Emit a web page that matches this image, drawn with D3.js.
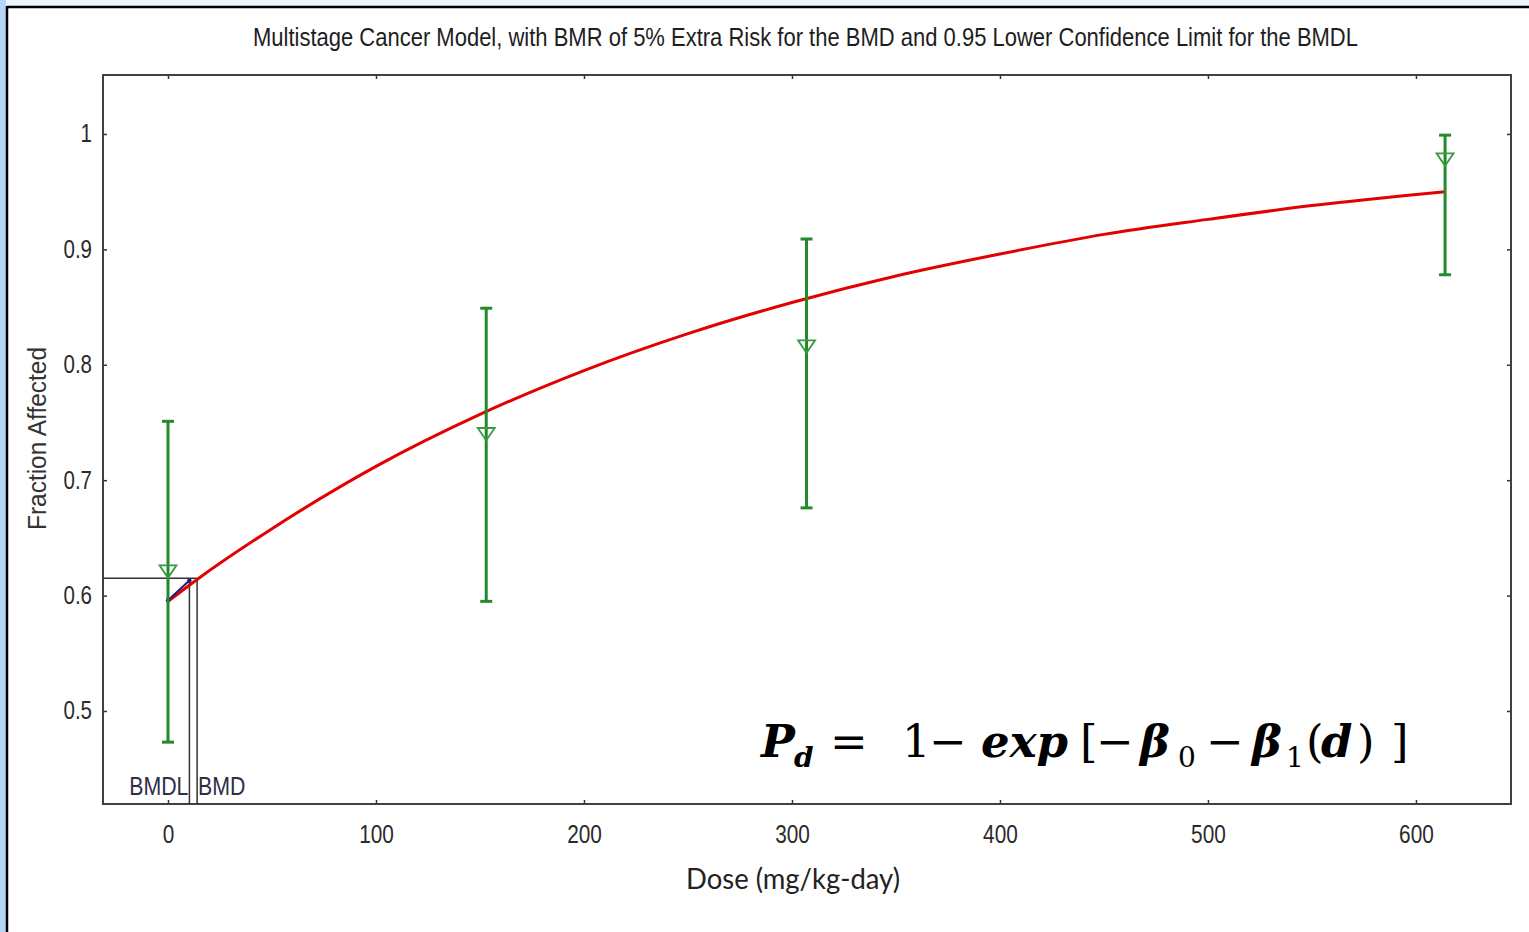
<!DOCTYPE html>
<html>
<head>
<meta charset="utf-8">
<script src="https://cdn.jsdelivr.net/npm/d3@7/dist/d3.min.js"></script>
<style>
  html, body { margin: 0; padding: 0; background: #ffffff; }
  svg { display: block; }
</style>
</head>
<body>
<div id="chart"></div>
<script>
// observed doses with fraction affected and 95% confidence limits
const doses = [0, 153, 307, 614];
const fractionObserved = [0.621, 0.740, 0.816, 0.978];
const lowerLimit = [0.473, 0.595, 0.676, 0.878];
const upperLimit = [0.751, 0.849, 0.909, 0.999];

// fitted multistage curve
const curveDose = [0, 14, 50, 100, 150, 200, 250, 300, 350, 400, 450, 500, 550, 614];
const curveFraction = [0.595, 0.614, 0.658, 0.712, 0.757, 0.795, 0.827, 0.854, 0.877, 0.896, 0.913, 0.926, 0.938, 0.950];

// BMDL segment and benchmark values
const bmdlDose = [0, 10.3];
const bmdlFraction = [0.596, 0.613];
const BMDL = 10.3;
const BMD = 14.0;
const BMR_FRACTION = 0.615;

const xTicks = [0, 100, 200, 300, 400, 500, 600];
const yTicks = [0.5, 0.6, 0.7, 0.8, 0.9, 1];

const TITLE = "Multistage Cancer Model, with BMR of 5% Extra Risk for the BMD and 0.95 Lower Confidence Limit for the BMDL";

const WIDTH = 1529;
const HEIGHT = 932;
const PLOT = { left: 103, right: 1511, top: 75, bottom: 804 };

const NARROW = "'Liberation Sans Narrow', 'Arial Narrow', 'Liberation Sans', Arial, sans-serif";
const GREEN = "#24892b";
const RED = "#e30000";

// squeeze text horizontally, the source used a condensed face
function condense(selection, factor) {
  selection.each(function () {
    const w = this.getComputedTextLength();
    d3.select(this)
      .attr("textLength", w * factor)
      .attr("lengthAdjust", "spacingAndGlyphs");
  });
}

const svg = d3.select("#chart")
  .append("svg")
  .attr("width", WIDTH)
  .attr("height", HEIGHT)
  .attr("viewBox", [0, 0, WIDTH, HEIGHT]);

// slide frame
svg.append("rect").attr("x", 0).attr("y", 0).attr("width", WIDTH).attr("height", 6).attr("fill", "#eef4fb");
svg.append("rect").attr("x", 0).attr("y", 0).attr("width", 6).attr("height", HEIGHT).attr("fill", "#b5d6f8");
svg.append("line").attr("x1", 7).attr("x2", WIDTH).attr("y1", 7).attr("y2", 7)
  .attr("stroke", "#000").attr("stroke-width", 2.5);
svg.append("line").attr("x1", 7).attr("x2", 7).attr("y1", 6).attr("y2", HEIGHT)
  .attr("stroke", "#000").attr("stroke-width", 2.5);

const x = d3.scaleLinear().domain([-31.25, 645.7]).range([PLOT.left, PLOT.right]);
const y = d3.scaleLinear().domain([0.4194, 1.0511]).range([PLOT.bottom, PLOT.top]);

// title
svg.append("text")
  .attr("x", 253)
  .attr("y", 46)
  .attr("font-family", NARROW)
  .attr("font-size", 25)
  .attr("fill", "#1e1e1e")
  .attr("textLength", 1105)
  .attr("lengthAdjust", "spacingAndGlyphs")
  .text(TITLE);

// axes with inward ticks
const styleAxis = (g) => {
  g.select(".domain").remove();
  g.selectAll(".tick line").attr("stroke", "#333").attr("stroke-width", 1.5);
  g.selectAll(".tick text").attr("fill", "#2a2a2a").attr("font-family", NARROW);
};

svg.append("g")
  .attr("transform", `translate(0,${PLOT.bottom})`)
  .call(d3.axisBottom(x).tickValues(xTicks).tickSize(-4).tickPadding(21).tickFormat(d3.format("d")))
  .call(styleAxis)
  .call((g) => g.selectAll(".tick text").attr("font-size", 26).call(condense, 0.8));

svg.append("g")
  .attr("transform", `translate(0,${PLOT.top})`)
  .call(d3.axisTop(x).tickValues(xTicks).tickSize(-4).tickFormat(""))
  .call(styleAxis);

svg.append("g")
  .attr("transform", `translate(${PLOT.left},0)`)
  .call(d3.axisLeft(y).tickValues(yTicks).tickSize(-4).tickPadding(11).tickFormat(d3.format("~g")))
  .call(styleAxis)
  .call((g) => g.selectAll(".tick text").attr("font-size", 25).call(condense, 0.82));

svg.append("g")
  .attr("transform", `translate(${PLOT.right},0)`)
  .call(d3.axisRight(y).tickValues(yTicks).tickSize(-4).tickFormat(""))
  .call(styleAxis);

svg.append("rect")
  .attr("x", PLOT.left)
  .attr("y", PLOT.top)
  .attr("width", PLOT.right - PLOT.left)
  .attr("height", PLOT.bottom - PLOT.top)
  .attr("fill", "none")
  .attr("stroke", "#404040")
  .attr("stroke-width", 2);

// axis titles
svg.append("text")
  .attr("transform", `translate(46,${(347 + 530) / 2}) rotate(-90)`)
  .attr("text-anchor", "middle")
  .attr("font-family", NARROW)
  .attr("font-size", 25)
  .attr("fill", "#333")
  .attr("textLength", 183)
  .attr("lengthAdjust", "spacingAndGlyphs")
  .text("Fraction Affected");

svg.append("text")
  .attr("x", 686)
  .attr("y", 889)
  .attr("font-family", "Lato, 'Open Sans', sans-serif")
  .attr("font-size", 28)
  .attr("fill", "#222")
  .attr("textLength", 214)
  .attr("lengthAdjust", "spacingAndGlyphs")
  .text("Dose (mg/kg-day)");

// benchmark dose guide lines
const guides = svg.append("g").attr("stroke", "#333").attr("stroke-width", 1.5).attr("fill", "none");
guides.append("line")
  .attr("x1", x.range()[0]).attr("x2", x(BMD))
  .attr("y1", y(BMR_FRACTION)).attr("y2", y(BMR_FRACTION));
guides.append("line")
  .attr("x1", x(BMDL)).attr("x2", x(BMDL))
  .attr("y1", y(BMR_FRACTION)).attr("y2", y.range()[0]);
guides.append("line")
  .attr("x1", x(BMD)).attr("x2", x(BMD))
  .attr("y1", y(BMR_FRACTION)).attr("y2", y.range()[0]);

svg.append("text")
  .attr("x", x(BMDL) - 1)
  .attr("y", 795)
  .attr("text-anchor", "end")
  .attr("font-family", NARROW)
  .attr("font-size", 26)
  .attr("fill", "#2e2e48")
  .text("BMDL")
  .call(condense, 0.82);
svg.append("text")
  .attr("x", x(BMD) + 1)
  .attr("y", 795)
  .attr("font-family", NARROW)
  .attr("font-size", 26)
  .attr("fill", "#2e2e48")
  .text("BMD")
  .call(condense, 0.82);

// fitted curve
const curveLine = d3.line()
  .x((d) => x(d[0]))
  .y((d) => y(d[1]))
  .curve(d3.curveMonotoneX);

svg.append("path")
  .datum(curveDose.map((d, i) => [d, curveFraction[i]]))
  .attr("d", curveLine)
  .attr("fill", "none")
  .attr("stroke", RED)
  .attr("stroke-width", 3);

const bmdlPoints = bmdlDose.map((d, i) => [d, bmdlFraction[i]]);
svg.append("path")
  .datum(bmdlPoints)
  .attr("d", d3.line().x((d) => x(d[0])).y((d) => y(d[1])))
  .attr("fill", "none")
  .attr("stroke", "#1b1f7a")
  .attr("stroke-width", 2);
svg.selectAll(".bmdl-dot")
  .data(bmdlPoints)
  .join("circle")
  .attr("class", "bmdl-dot")
  .attr("cx", (d) => x(d[0]))
  .attr("cy", (d) => y(d[1]))
  .attr("r", 2.2)
  .attr("fill", "#1b1f7a");

// error bars with open triangles
const CAP_HALF = 6;
const bars = svg.append("g").attr("class", "error-bars");
doses.forEach((dose, i) => {
  const cx = x(dose);
  bars.append("line")
    .attr("x1", cx).attr("x2", cx)
    .attr("y1", y(upperLimit[i])).attr("y2", y(lowerLimit[i]))
    .attr("stroke", GREEN).attr("stroke-width", 3);
  [upperLimit[i], lowerLimit[i]].forEach((v) => {
    bars.append("line")
      .attr("x1", cx - CAP_HALF).attr("x2", cx + CAP_HALF)
      .attr("y1", y(v)).attr("y2", y(v))
      .attr("stroke", GREEN).attr("stroke-width", 3);
  });
  const cy = y(fractionObserved[i]);
  bars.append("path")
    .attr("d", `M${cx - 8.5},${cy - 6}L${cx + 8.5},${cy - 6}L${cx},${cy + 6.5}Z`)
    .attr("fill", "none")
    .attr("stroke", "#3a9a3f")
    .attr("stroke-width", 1.8);
});

// model formula
const formula = svg.append("text")
  .attr("y", 757)
  .attr("font-family", "'DejaVu Serif', 'Liberation Serif', serif")
  .attr("font-size", 45)
  .attr("fill", "#000");
const parts = [
  { t: "P", x: 761, bi: true },
  { t: "d", x: 794, bi: true, sub: true },
  { t: "=", x: 830 },
  { t: "1", x: 902 },
  { t: "\u2212", x: 929 },
  { t: "exp", x: 981, bi: true },
  { t: "[", x: 1080 },
  { t: "\u2212", x: 1096 },
  { t: "\u03b2", x: 1140, bi: true },
  { t: "0", x: 1178, sub: true },
  { t: "\u2212", x: 1206 },
  { t: "\u03b2", x: 1252, bi: true },
  { t: "1", x: 1286, sub: true },
  { t: "(", x: 1306 },
  { t: "d", x: 1321, bi: true },
  { t: ")", x: 1357 },
  { t: "]", x: 1391 },
];
parts.forEach((p) => {
  formula.append("tspan")
    .attr("x", p.x)
    .attr("y", p.sub ? 767 : 757)
    .attr("font-size", p.sub ? 28 : 45)
    .attr("font-weight", p.bi ? "bold" : "normal")
    .attr("font-style", p.bi ? "italic" : "normal")
    .text(p.t);
});
</script>
</body>
</html>
